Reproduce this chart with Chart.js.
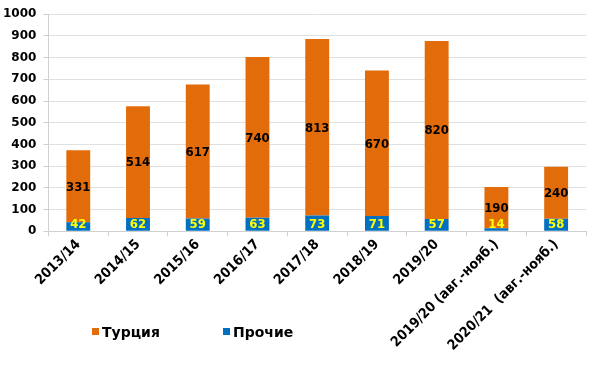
<!DOCTYPE html>
<html lang="ru">
<head>
<meta charset="UTF-8">
<title>Турция / Прочие</title>
<script src="https://cdn.jsdelivr.net/npm/chart.js"></script>
<style>
    body { margin: 0; background: #fff; font-family: "DejaVu Sans", Verdana, sans-serif; }
    #wrap { position: relative; width: 600px; height: 388px; }
    #legend { position: absolute; top: 324px; left: 92px; font-weight: bold; font-size: 14px; color: #000; }
    #legend span.item { position: absolute; white-space: nowrap; }
    #legend i { display: inline-block; width: 7px; height: 7px; margin-right: 3px; vertical-align: 2px; }
</style>
</head>
<body>
<div id="wrap">
    <canvas id="chart" width="600" height="388"></canvas>
    <div id="legend">
        <span class="item" style="left:0"><i style="background:#e36c0a"></i>Турция</span>
        <span class="item" style="left:131px"><i style="background:#0070c0"></i>Прочие</span>
    </div>
</div>
<script>
const seasons = ['2013/14', '2014/15', '2015/16', '2016/17', '2017/18', '2018/19', '2019/20',
    '2019/20 (авг.-нояб.)', '2020/21  (авг.-нояб.)'];
const turkey = [331, 514, 617, 740, 813, 670, 820, 190, 240];
const others = [42, 62, 59, 63, 73, 71, 57, 14, 58];

const NARROW = '"DejaVu Sans Condensed", "DejaVu Sans", Verdana, sans-serif';
const WIDE = '"DejaVu Sans", Verdana, sans-serif';

// simple value labels inside the bars
const barLabels = {
    id: 'barLabels',
    afterDatasetsDraw(chart) {
        const ctx = chart.ctx;
        ctx.save();
        ctx.font = 'bold 13px ' + NARROW;
        ctx.textAlign = 'center';
        ctx.textBaseline = 'middle';
        chart.data.datasets.forEach((ds, i) => {
            chart.getDatasetMeta(i).data.forEach((bar, j) => {
                let y = (bar.y + bar.base) / 2;
                if (i === 0) y = Math.min(y, bar.base - 7);
                ctx.fillStyle = i === 0 ? '#ffff00' : '#000';
                ctx.fillText(ds.data[j], bar.x, y + 1);
            });
        });
        ctx.restore();
    }
};

new Chart(document.getElementById('chart'), {
    type: 'bar',
    data: {
        labels: seasons,
        datasets: [
            { label: 'Прочие', data: others, backgroundColor: '#0070c0', barPercentage: 0.8, categoryPercentage: 0.5 },
            { label: 'Турция', data: turkey, backgroundColor: '#e36c0a', barPercentage: 0.8, categoryPercentage: 0.5 }
        ]
    },
    options: {
        responsive: false,
        animation: false,
        layout: { padding: { top: 12, right: 14, bottom: 34, left: -4 } },
        plugins: { legend: { display: false }, tooltip: { enabled: false } },
        scales: {
            x: {
                stacked: true,
                grid: { drawOnChartArea: false, drawTicks: true, tickLength: 5, color: '#d0d0d0' },
                border: { color: '#d0d0d0' },
                ticks: {
                    maxRotation: 45, minRotation: 45, autoSkip: false, padding: 0,
                    color: '#000',
                    font: { family: NARROW, size: 14, weight: 'bold' }
                }
            },
            y: {
                stacked: true,
                min: 0, max: 1000,
                grid: { color: '#e0e0e0', drawTicks: true, tickLength: 5, tickColor: '#d0d0d0' },
                border: { color: '#d0d0d0' },
                ticks: {
                    stepSize: 100, padding: 7,
                    color: '#000',
                    callback: v => String(v),
                    font: { family: WIDE, size: 12, weight: 'bold' }
                }
            }
        }
    },
    plugins: [barLabels]
});
</script>
</body>
</html>
